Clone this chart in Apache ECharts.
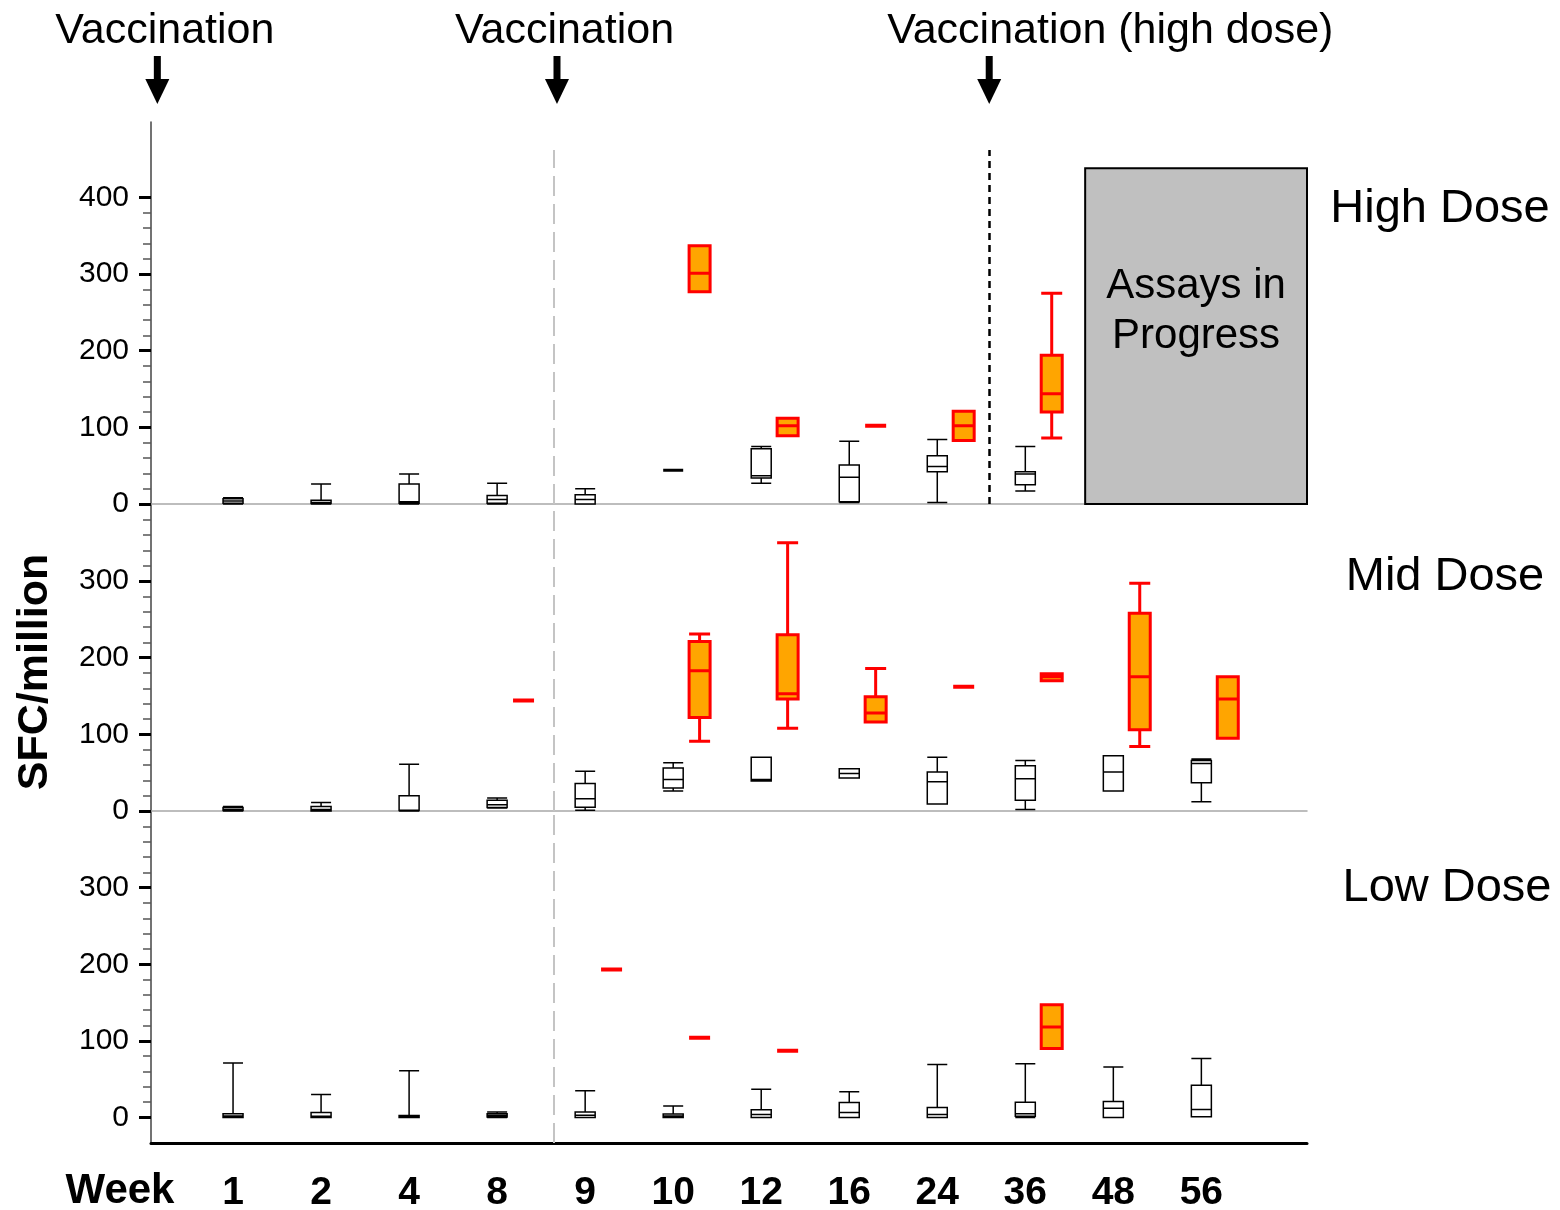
<!DOCTYPE html>
<html>
<head>
<meta charset="utf-8">
<script src="https://cdn.jsdelivr.net/npm/echarts@6/dist/echarts.min.js"></script>
<style>html,body{margin:0;padding:0;background:#fff}#c{width:1560px;height:1210px}</style>
</head>
<body>
<div id="c"></div>
<script>
// ---- data ----
const weekLabels = ['1','2','4','8','9','10','12','16','24','36','48','56'];
const panelNames = ['High Dose','Mid Dose','Low Dose'];
const topNotes = ['Vaccination','Vaccination','Vaccination (high dose)'];
// vaccination positions on the week-slot axis (slot 0 = week 1)
const vaccinationAt = [-0.86, 3.68, 8.59];
const highDoseVaccAt = 8.59;
const boostLineAt = 3.64;
// box stats: [min, Q1, median, Q3, max]; null = no data
const highBlack = [[0,1,4,7,8],[0,0.5,2,5,26],[0,1,3,26,39],[0,1,6,11,27],[0,0,6,12,20],[44,44,44,44,44],[27,34,37,72,75],[2,3,35,51,82],[2,42,49,63,84],[17,25,39,42,75],null,null];
const highRed   = [null,null,null,null,null,[277,277,301,337,337],[89,89,102,112,112],[102,102,102,102,102],[83,83,102,121,121],[86,120,144,194,275],null,null];
const midBlack  = [[0,0.5,2,4.5,6],[0,0,2,6,11],[0,0.5,1,20,61],[4,4.5,8,14,17],[1,5,16,36,52],[26,30,41,56,63],[39,39,41,70,70],[43,43,49,55,55],[9,9,38,51,70],[2,14,42,59,66],[26,26,51,72,72],[12,37,62,66,68]];
const midRed    = [null,null,null,[144,144,144,144,144],null,[91,122,183,221,231],[108,146,153,230,350],[116,116,128,149,186],[162,162,162,162,162],[170,170,175,179,179],[84,106,175,258,297],[95,95,146,175,175]];
const lowBlack  = [[0,0,2,5,71],[0,0,1.5,6.5,30],[0,0,1,2.6,61],[0,0.5,2.5,5,7],[0,0,3,7,35],[0,0,2,4.7,15],[0,0,4,10,37],[0,0,6.5,19.6,33.5],[0,0,4,13,69],[0,1.5,5,20,70],[0,0,12,21,66],[1,1,10.5,42,77]];
const lowRed    = [null,null,null,null,[193,193,193,193,193],[104,104,104,104,104],[87,87,87,87,87],null,null,[90,90,118,147,147],null,null];
const majorHigh = [0,100,200,300,400];
const majorLow = [0,100,200,300];
const assaysBox = {from: 9.68, to: 12.2, top: 438, text: 'Assays in\nProgress'};

// ---- layout ----
const FONT = '"Liberation Sans", Arial, Helvetica, sans-serif';
const X_MIN = -0.932, X_MAX = 12.2, RED_OFF = 0.3;
const minors = (maxV) => { const a = []; for (let v = 20; v < maxV; v += 20) if (v % 100) a.push(v); return a; };

const grids = [
  {left: 151, right: 253, top: 122, height: 382, containLabel: false, outerBoundsMode: 'none'},
  {left: 151, right: 253, top: 504, height: 307, containLabel: false, outerBoundsMode: 'none'},
  {left: 151, right: 253, top: 811, height: 332, containLabel: false, outerBoundsMode: 'none'}
];
const yRanges = [[0, 498.4], [0, 400.5], [-33.3, 400]];
const yMajors = [majorHigh, majorLow, majorLow];
const yMinors = [minors(400), minors(400), minors(400)];

const xAxes = [], yAxes = [];
for (let g = 0; g < 3; g++) {
  const last = g === 2;
  xAxes.push({
    type: 'value', gridIndex: g, min: X_MIN, max: X_MAX, position: 'bottom',
    splitLine: {show: false},
    axisLine: {show: true, onZero: !last, lineStyle: last ? {color: '#000', width: 3} : {color: '#a8a8a8', width: 1.5}},
    axisTick: {show: false},
    axisLabel: last ? {
      show: true, customValues: weekLabels.map((_, i) => i),
      formatter: (v) => weekLabels[Math.round(v)],
      fontFamily: FONT, fontWeight: 'bold', fontSize: 39, color: '#000', margin: 31
    } : {show: false}
  });
  xAxes.push({type: 'value', gridIndex: g, min: X_MIN, max: X_MAX, position: 'bottom', show: false});
  yAxes.push({
    type: 'value', gridIndex: g, min: yRanges[g][0], max: yRanges[g][1], position: 'left',
    splitLine: {show: false},
    axisLine: {show: true, onZero: false, lineStyle: {color: '#444', width: 1.5}},
    axisTick: {show: true, customValues: yMajors[g], length: 12, lineStyle: {color: '#000', width: 3}},
    axisLabel: {show: true, customValues: yMajors[g], fontFamily: FONT, fontSize: 30, color: '#000', margin: 22}
  });
  yAxes.push({
    type: 'value', gridIndex: g, min: yRanges[g][0], max: yRanges[g][1], position: 'left', offset: 0,
    splitLine: {show: false},
    axisLine: {show: false, onZero: false},
    axisTick: {show: true, customValues: yMinors[g], length: 8, lineStyle: {color: '#555', width: 1.5}},
    axisLabel: {show: false}
  });
}

// single-value boxes are drawn as a heavier bar, as in the source figure
const toData = (arr, off, flatWidth) => arr.map((s, i) => {
  if (!s) return null;
  const item = {value: [i + off].concat(s)};
  if (s[0] === s[4]) item.itemStyle = {borderWidth: flatWidth};
  return item;
}).filter(Boolean);
const blackStyle = {color: '#fff', borderColor: '#000', borderWidth: 1.5};
const redStyle = {color: '#FFA500', borderColor: '#FF0000', borderWidth: 3};
const dashedGray = {color: '#c4c4c4', width: 2, type: [20, 8]};
const dottedBlack = {color: '#000', width: 2.5, type: [7, 5]};

function blackSeries(g, arr, markLineData) {
  return {
    type: 'boxplot', xAxisIndex: g * 2, yAxisIndex: g * 2,
    data: toData(arr, 0, 3), boxWidth: [20, 20], itemStyle: blackStyle,
    silent: true, z: 3,
    markLine: {silent: true, symbol: 'none', label: {show: false}, data: markLineData}
  };
}
function redSeries(g, arr, extra) {
  return Object.assign({
    type: 'boxplot', xAxisIndex: g * 2 + 1, yAxisIndex: g * 2,
    data: toData(arr, RED_OFF, 4), boxWidth: [21, 21], itemStyle: redStyle,
    silent: true, z: 4
  }, extra || {});
}

const series = [
  blackSeries(0, highBlack, [
    [{coord: [boostLineAt, 0], lineStyle: dashedGray}, {coord: [boostLineAt, 462]}],
    [{coord: [highDoseVaccAt, 0], lineStyle: dottedBlack}, {coord: [highDoseVaccAt, 462]}]
  ]),
  redSeries(0, highRed, {
    markArea: {
      silent: true,
      itemStyle: {color: '#c0c0c0', borderColor: '#000', borderWidth: 2},
      label: {show: true, position: 'insideTop', distance: 94, formatter: assaysBox.text,
        fontFamily: FONT, fontSize: 42, lineHeight: 50, color: '#000'},
      data: [[{coord: [assaysBox.from, 0]}, {coord: [assaysBox.to, assaysBox.top]}]]
    }
  }),
  blackSeries(1, midBlack, [{xAxis: boostLineAt, lineStyle: dashedGray}]),
  redSeries(1, midRed),
  blackSeries(2, lowBlack, [{xAxis: boostLineAt, lineStyle: dashedGray}]),
  redSeries(2, lowRed)
];

const chart = echarts.init(document.getElementById('c'), null, {renderer: 'canvas'});
chart.setOption({
  backgroundColor: '#fff',
  animation: false,
  textStyle: {fontFamily: FONT},
  grid: grids,
  xAxis: xAxes,
  yAxis: yAxes,
  series: series
});

// ---- annotations (positions derived from the axes) ----
const graphics = [];
vaccinationAt.forEach((v, i) => {
  const x = chart.convertToPixel({xAxisIndex: 0}, v);
  graphics.push({type: 'rect', shape: {x: x - 3.5, y: 56, width: 7, height: 25}, style: {fill: '#000'}});
  graphics.push({type: 'polygon', shape: {points: [[x - 12, 79], [x + 12, 79], [x, 104]]}, style: {fill: '#000'}});
  graphics.push({type: 'text', x: x - 102, y: 31, style: {text: topNotes[i], font: '43px ' + FONT, fill: '#000', textAlign: 'left', textVerticalAlign: 'middle'}});
});
const panelX = [1440, 1445, 1447];
const panelY = [209, 577, 888];
panelNames.forEach((n, i) => {
  graphics.push({type: 'text', x: panelX[i], y: panelY[i], style: {text: n, font: '47px ' + FONT, fill: '#000', textAlign: 'center', textVerticalAlign: 'middle'}});
});
graphics.push({type: 'text', x: 35, y: 672, rotation: Math.PI / 2, style: {text: 'SFC/million', font: 'bold 43px ' + FONT, fill: '#000', textAlign: 'center', textVerticalAlign: 'middle'}});
graphics.push({type: 'text', x: 120, y: 1191, style: {text: 'Week', font: 'bold 42px ' + FONT, fill: '#000', textAlign: 'center', textVerticalAlign: 'middle'}});
chart.setOption({graphic: graphics});
</script>
</body>
</html>
